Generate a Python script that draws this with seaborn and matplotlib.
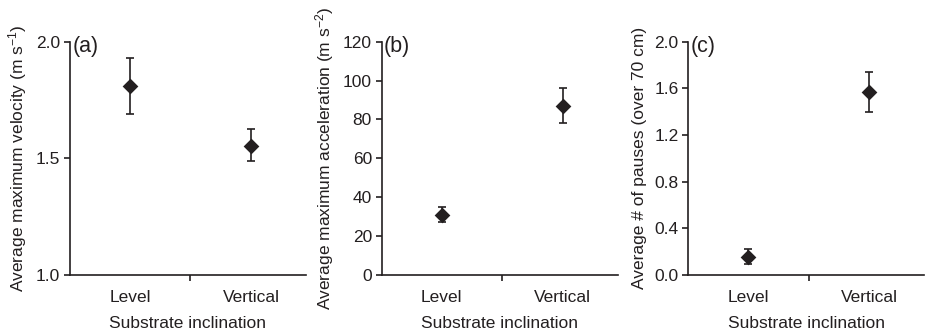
import matplotlib
matplotlib.use("Agg")
import matplotlib.pyplot as plt
import seaborn as sns
import numpy as np
import pandas as pd

categories = ["Level", "Vertical"]

vel_mean = [1.81, 1.555]
vel_low = [1.69, 1.49]
vel_high = [1.93, 1.625]

acc_mean = [31.0, 87.0]
acc_low = [27.5, 78.3]
acc_high = [34.8, 96.0]

pause_mean = [0.157, 1.565]
pause_low = [0.092, 1.40]
pause_high = [0.22, 1.74]

panels = [
    ("(a)", "Average maximum velocity (m s$^{-1}$)", vel_mean, vel_low, vel_high,
     (1.0, 2.0), [1.0, 1.5, 2.0], ["1.0", "1.5", "2.0"]),
    ("(b)", "Average maximum acceleration (m s$^{-2}$)", acc_mean, acc_low, acc_high,
     (0, 120), [0, 20, 40, 60, 80, 100, 120], ["0", "20", "40", "60", "80", "100", "120"]),
    ("(c)", "Average # of pauses (over 70 cm)", pause_mean, pause_low, pause_high,
     (0.0, 2.0), [0.0, 0.4, 0.8, 1.2, 1.6, 2.0], ["0.0", "0.4", "0.8", "1.2", "1.6", "2.0"]),
]

sns.set_theme(style="ticks")
plt.rcParams["font.family"] = ["Liberation Sans", "DejaVu Sans"]
plt.rcParams["mathtext.fontset"] = "custom"
plt.rcParams["mathtext.rm"] = "Liberation Sans"
plt.rcParams["mathtext.it"] = "Liberation Sans:italic"

fig = plt.figure(figsize=(9.27, 3.29), dpi=100)
lefts = [70 / 927, 381.7 / 927, 688.3 / 927]
W = 236 / 927
bottom = 1 - 275 / 329
H = (275 - 41.7) / 329

text_color = "#231f20"
FS = 12.5

for left, (tag, ylabel, mean, low, high, ylim, yt, ytl) in zip(lefts, panels):
    ax = fig.add_axes([left, bottom, W, H])
    df = pd.DataFrame({"x": np.arange(len(categories)), "y": mean})
    yerr = np.array([np.array(mean) - np.array(low), np.array(high) - np.array(mean)])
    ax.errorbar(df["x"], df["y"], yerr=yerr, fmt="none", ecolor=text_color,
                elinewidth=1.2, capsize=3, capthick=1.2, zorder=2)
    sns.scatterplot(data=df, x="x", y="y", marker="D", s=64, color=text_color,
                    edgecolor=text_color, linewidth=0, ax=ax, zorder=3, legend=False)
    ax.set_xlim(-0.496, 1.455)
    ax.set_ylim(*ylim)
    ax.set_yticks(yt)
    ax.set_yticklabels(ytl)
    ax.set_xticks([0, 1])
    ax.set_xticklabels(categories)
    ax.set_xticks([0.5], minor=True)
    ax.tick_params(axis="x", which="major", length=0, pad=10.5, labelsize=FS, colors=text_color)
    ax.tick_params(axis="x", which="minor", length=4, width=1.2, color=text_color)
    ax.tick_params(axis="y", length=4, width=1.2, labelsize=FS, colors=text_color, pad=3)
    for s in ["top", "right"]:
        ax.spines[s].set_visible(False)
    for s in ["left", "bottom"]:
        ax.spines[s].set_linewidth(1.2)
        ax.spines[s].set_color(text_color)
    ax.set_xlabel("Substrate inclination", fontsize=FS, color=text_color, labelpad=8)
    ax.set_ylabel(ylabel, fontsize=FS, color=text_color, labelpad=5)
    ax.text(0.01, 0.98, tag, transform=ax.transAxes, fontsize=15.5, color=text_color,
            ha="left", va="center")

fig.savefig("out.png", dpi=100)
